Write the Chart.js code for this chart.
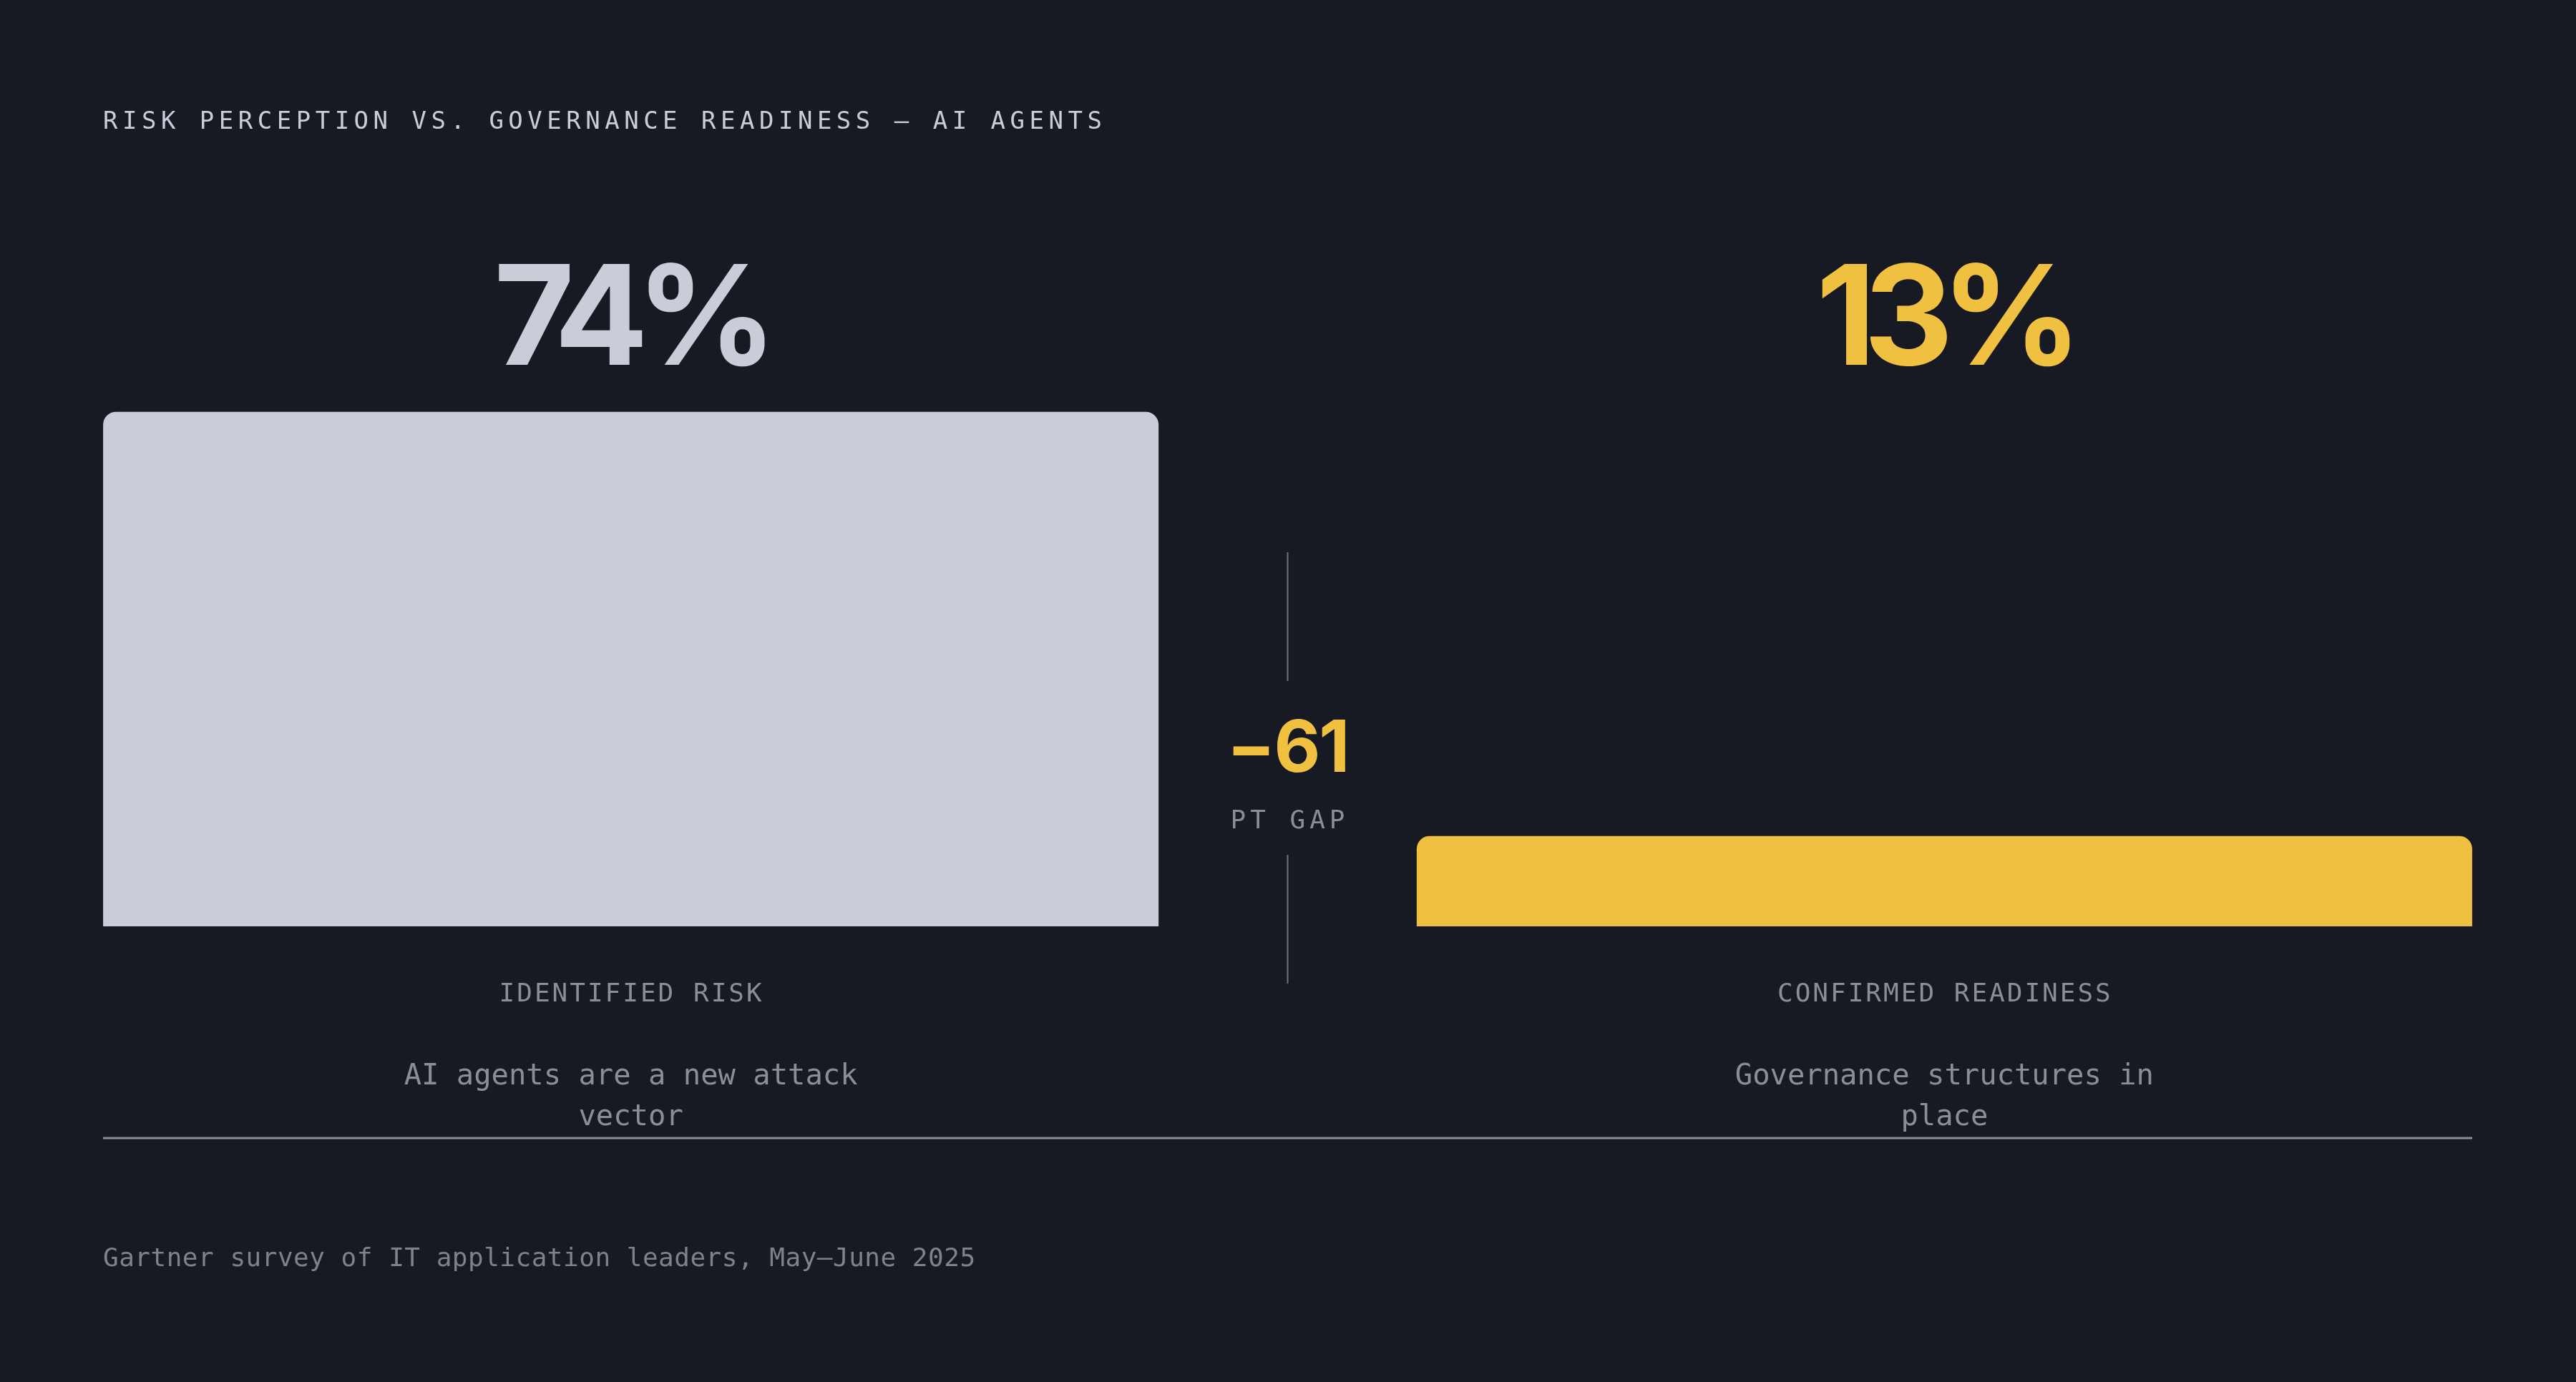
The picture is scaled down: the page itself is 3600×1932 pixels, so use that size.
<!DOCTYPE html>
<html>
<head>
<meta charset="utf-8">
<script src="https://cdn.jsdelivr.net/npm/chart.js@4.4.1/dist/chart.umd.min.js"></script>
<style>
  html, body { margin: 0; padding: 0; background: #171923; }
  #wrap { position: relative; width: 3600px; height: 1932px; }
</style>
</head>
<body>
<div id="wrap"><canvas id="gapChart"></canvas></div>
<script>
// data
const title = "RISK PERCEPTION VS. GOVERNANCE READINESS — AI AGENTS";
const categories = ["IDENTIFIED RISK", "CONFIRMED READINESS"];
const descriptions = [["AI agents are a new attack", "vector"], ["Governance structures in", "place"]];
const values = [74, 13];
const gapLabel = "PT GAP";
const source = "Gartner survey of IT application leaders, May–June 2025";

const barColors = ["#c9cdd8", "#f0c040"];
const mono = '"DejaVu Sans Mono", "Liberation Mono", monospace';
const sans = 'Inter, "Noto Sans", sans-serif';

// text + gap marker drawn on top of the bars
const annotations = {
    id: "annotations",
    afterDatasetsDraw: function (chart) {
        var ctx = chart.ctx;
        var bars = chart.getDatasetMeta(0).data;
        ctx.save();
        ctx.textBaseline = "alphabetic";

        // title
        ctx.textAlign = "left";
        ctx.font = "34px " + mono;
        ctx.letterSpacing = "6.5px";
        ctx.fillStyle = "#c9cdd8";
        ctx.fillText(title, 144, 180);

        bars.forEach(function (bar, i) {
            // big value
            ctx.textAlign = "center";
            ctx.font = "700 194px " + sans;
            ctx.letterSpacing = "-17px";
            ctx.fillStyle = barColors[i];
            ctx.fillText(values[i] + "%", bar.x - 2, 510);

            // category label
            ctx.font = "36px " + mono;
            ctx.letterSpacing = "3px";
            ctx.fillStyle = "#8b8e99";
            ctx.fillText(categories[i], bar.x + 1, 1400);

            // description
            ctx.font = "40.5px " + mono;
            ctx.letterSpacing = "0px";
            descriptions[i].forEach(function (line, j) {
                ctx.fillText(line, bar.x, 1516 + j * 57);
            });
        });

        // gap marker between the bars
        var gx = (bars[0].x + bars[0].width / 2 + bars[1].x - bars[1].width / 2) / 2;
        ctx.strokeStyle = "#6e717d";
        ctx.lineWidth = 2;
        ctx.beginPath();
        ctx.moveTo(gx, 772); ctx.lineTo(gx, 952);
        ctx.moveTo(gx, 1195); ctx.lineTo(gx, 1375);
        ctx.stroke();

        var gap = values[1] - values[0];
        ctx.textAlign = "center";
        ctx.font = "700 100px " + sans;
        ctx.letterSpacing = "-2px";
        ctx.fillStyle = "#f0c040";
        ctx.fillText((gap < 0 ? "−" : "+") + Math.abs(gap), gx, 1079);

        ctx.font = "36px " + mono;
        ctx.letterSpacing = "6px";
        ctx.fillStyle = "#8b8e99";
        ctx.fillText(gapLabel, gx + 3, 1158);

        // rule + source
        ctx.strokeStyle = "#8b8e99";
        ctx.lineWidth = 3;
        ctx.beginPath();
        ctx.moveTo(chart.chartArea.left, 1591);
        ctx.lineTo(chart.chartArea.right, 1591);
        ctx.stroke();

        ctx.textAlign = "left";
        ctx.font = "36px " + mono;
        ctx.letterSpacing = "0.5px";
        ctx.fillStyle = "#7f828d";
        ctx.fillText(source, 144, 1770);
        ctx.restore();
    }
};

document.addEventListener("DOMContentLoaded", function () {
    var ctx = document.getElementById("gapChart").getContext("2d");
    new Chart(ctx, {
        type: "bar",
        data: {
            datasets: [{
                data: values.map(function (v, i) { return { x: i, y: v }; }),
                backgroundColor: barColors,
                borderWidth: 0,
                borderRadius: 18,
                categoryPercentage: 1,
                barPercentage: 0.8035
            }]
        },
        options: {
            responsive: true,
            maintainAspectRatio: false,
            animation: false,
            devicePixelRatio: 1,
            layout: { padding: { left: 144, right: 145, top: 323, bottom: 637 } },
            plugins: { legend: { display: false }, tooltip: { enabled: false } },
            scales: {
                x: {
                    type: "linear", display: false, offset: false, min: -0.4018, max: 1.4018,
                    afterBuildTicks: function (s) { s.ticks = [{ value: 0 }, { value: 1 }]; }
                },
                y: { display: false, min: 0, max: 100 }
            }
        },
        plugins: [annotations]
    });
});
</script>
</body>
</html>
